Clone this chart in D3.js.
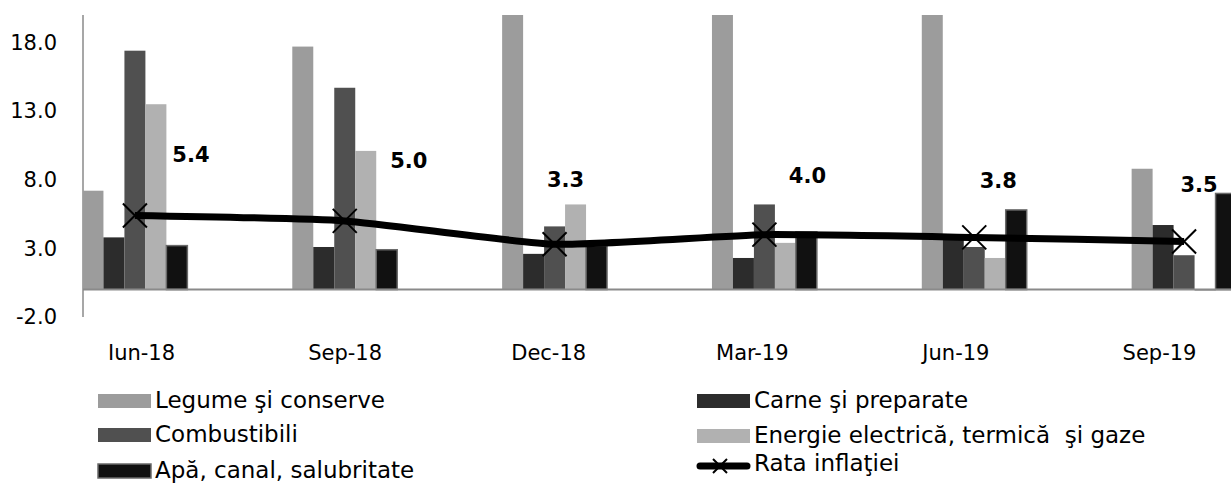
<!DOCTYPE html>
<html>
<head>
<meta charset="utf-8">
<script src="https://cdn.jsdelivr.net/npm/d3@7"></script>
<style>
  body { margin: 0; background: #fff; }
  svg { display: block; font-family: "DejaVu Sans", sans-serif; }
</style>
</head>
<body>
<svg id="chart" width="1231" height="485"></svg>
<script>
const categories = ["Iun-18", "Sep-18", "Dec-18", "Mar-19", "Jun-19", "Sep-19"];
const seriesNames = [
  "Legume şi conserve",
  "Carne şi preparate",
  "Combustibili",
  "Energie electrică, termică  şi gaze",
  "Apă, canal, salubritate"
];
const legume = [7.2, 17.7, 25.0, 25.0, 25.0, 8.8];
const carne = [3.8, 3.1, 2.6, 2.3, 3.9, 4.7];
const combustibili = [17.4, 14.7, 4.6, 6.2, 3.1, 2.5];
const energie = [13.5, 10.1, 6.2, 3.4, 2.3, -0.1];
const apa = [3.2, 2.9, 3.2, 4.2, 5.8, 7.0];
const inflatie = [5.4, 5.0, 3.3, 4.0, 3.8, 3.5];
const inflatieName = "Rata inflaţiei";
const yTicks = [-2, 3, 8, 13, 18];

// where the data labels sit relative to their marker (dx, dy of baseline)
const labelOffsets = [[56, -53], [64, -53], [11, -57], [43, -52], [24, -49], [15, -50]];

const colors = ["#9c9c9c", "#2c2c2c", "#505050", "#b1b1b1", "#111111"];
const seriesValues = [legume, carne, combustibili, energie, apa];

const svg = d3.select("#chart");
const plotLeft = 83;
const plotRight = 1231;
const plotTop = 15;
const plotBottom = 317;

const y = d3.scaleLinear().domain([-2, 20]).range([plotBottom, plotTop]);

const x0 = d3
  .scaleBand()
  .domain(categories)
  .range([30, 1289])
  .paddingInner(0.5)
  .paddingOuter(0.25);

const x1 = d3
  .scaleBand()
  .domain(seriesNames)
  .range([0, x0.bandwidth()]);

// label axis positions in the original do not line up exactly with the bar groups
const xLabels = d3.scalePoint().domain(categories).range([141, 1159]);

svg
  .append("defs")
  .append("clipPath")
  .attr("id", "plot-clip")
  .append("rect")
  .attr("x", plotLeft)
  .attr("y", plotTop)
  .attr("width", plotRight - plotLeft)
  .attr("height", plotBottom - plotTop);

// y axis
const yAxis = d3
  .axisLeft(y)
  .tickValues(yTicks)
  .tickSize(0)
  .tickPadding(26)
  .tickFormat((d) => d.toFixed(1));

const yG = svg
  .append("g")
  .attr("transform", `translate(${plotLeft},0)`)
  .call(yAxis);
yG.select(".domain").remove();
yG.selectAll("text")
  .style("font-family", "'DejaVu Sans', sans-serif")
  .style("font-size", "21px")
  .attr("fill", "#000");

svg
  .append("line")
  .attr("x1", plotLeft)
  .attr("x2", plotLeft)
  .attr("y1", plotTop)
  .attr("y2", plotBottom)
  .attr("stroke", "#8a8a8a")
  .attr("stroke-width", 1.5);

// bars
const barsG = svg.append("g").attr("clip-path", "url(#plot-clip)");

seriesNames.forEach((name, s) => {
  barsG
    .append("g")
    .selectAll("rect")
    .data(seriesValues[s])
    .enter()
    .append("rect")
    .attr("x", (d, i) => x0(categories[i]) + x1(name))
    .attr("y", (d) => y(Math.max(0, d)))
    .attr("width", x1.bandwidth())
    .attr("height", (d) => Math.abs(y(d) - y(0)))
    .attr("fill", colors[s])
    .attr("stroke", s === 4 ? "#6a6a6a" : "none")
    .attr("stroke-width", s === 4 ? 1.5 : 0);
});

// zero line
svg
  .append("line")
  .attr("x1", plotLeft)
  .attr("x2", plotRight)
  .attr("y1", y(0))
  .attr("y2", y(0))
  .attr("stroke", "#8a8a8a")
  .attr("stroke-width", 2);

// x axis labels
const xAxis = d3.axisBottom(xLabels).tickSize(0).tickPadding(0);
const xG = svg
  .append("g")
  .attr("transform", `translate(0,360)`)
  .call(xAxis);
xG.select(".domain").remove();
xG.selectAll("text")
  .attr("y", 0)
  .attr("dy", 0)
  .style("font-family", "'DejaVu Sans', sans-serif")
  .style("font-size", "21px")
  .attr("fill", "#000");

// inflation line
const cx = (i) => x0(categories[i]) + x0.bandwidth() / 2;

const line = d3
  .line()
  .x((d, i) => cx(i))
  .y((d) => y(d))
  .curve(d3.curveCardinal.tension(0.5));

svg
  .append("path")
  .datum(inflatie)
  .attr("d", line)
  .attr("fill", "none")
  .attr("stroke", "#000")
  .attr("stroke-width", 7)
  .attr("stroke-linejoin", "round");

const cross = (g, px, py, r) => {
  g.append("path")
    .attr("d", `M${px - r},${py - r}L${px + r},${py + r}M${px - r},${py + r}L${px + r},${py - r}`)
    .attr("stroke", "#000")
    .attr("stroke-width", 2)
    .attr("fill", "none");
};

const markers = svg.append("g");
inflatie.forEach((d, i) => cross(markers, cx(i), y(d), 12));

svg
  .append("g")
  .selectAll("text")
  .data(inflatie)
  .enter()
  .append("text")
  .attr("x", (d, i) => cx(i) + labelOffsets[i][0])
  .attr("y", (d, i) => y(d) + labelOffsets[i][1])
  .attr("text-anchor", "middle")
  .style("font-size", "21px")
  .style("font-weight", "bold")
  .text((d) => d.toFixed(1));

// legend
const legendItems = [
  { name: seriesNames[0], color: colors[0], x: 98, base: 408 },
  { name: seriesNames[1], color: colors[1], x: 697, base: 408 },
  { name: seriesNames[2], color: colors[2], x: 98, base: 442 },
  { name: seriesNames[3], color: colors[3], x: 697, base: 443 },
  { name: seriesNames[4], color: colors[4], x: 98, base: 478, border: true },
  { name: inflatieName, line: true, x: 697, base: 471 }
];

const legend = svg.append("g");
legendItems.forEach((item) => {
  const lx = item.x;
  const ly = item.base;
  if (item.line) {
    legend
      .append("line")
      .attr("x1", lx + 3)
      .attr("x2", lx + 50)
      .attr("y1", ly - 5)
      .attr("y2", ly - 5)
      .attr("stroke", "#000")
      .attr("stroke-width", 7)
      .attr("stroke-linecap", "round");
    cross(legend, lx + 23, ly - 5, 7);
  } else {
    legend
      .append("rect")
      .attr("x", lx)
      .attr("y", ly - 14)
      .attr("width", 53)
      .attr("height", 14)
      .attr("fill", item.color)
      .attr("stroke", item.border ? "#6a6a6a" : "none")
      .attr("stroke-width", item.border ? 1.5 : 0);
  }
  legend
    .append("text")
    .attr("x", lx + 57)
    .attr("y", ly)
    .style("font-size", "23px")
    .style("white-space", "pre")
    .text(item.name);
});
</script>
</body>
</html>
